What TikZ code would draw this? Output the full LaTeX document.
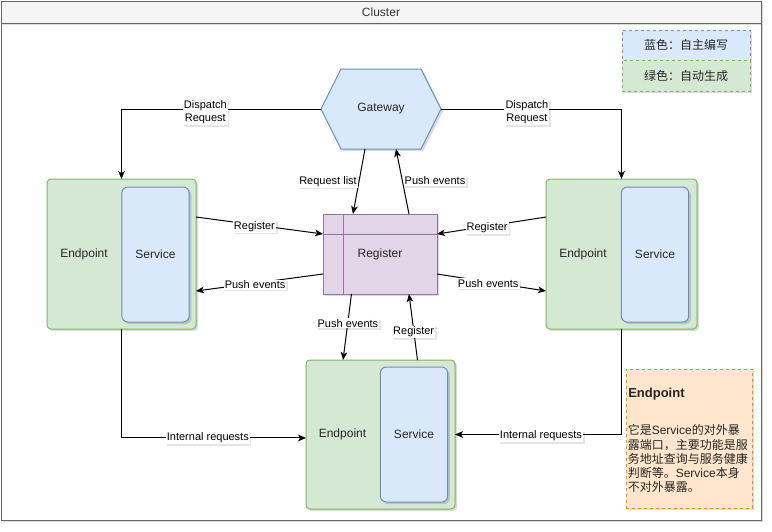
\documentclass[tikz,border=0pt]{standalone}
\usepackage{fontspec}
\setmainfont{Liberation Sans}
\newfontfamily\cjk{Noto Sans CJK SC}
\usetikzlibrary{arrows.meta,shadows}
\definecolor{gfill}{HTML}{D5E8D4}
\definecolor{gline}{HTML}{82B366}
\definecolor{bfill}{HTML}{DAE8FC}
\definecolor{bline}{HTML}{6C8EBF}
\definecolor{pfill}{HTML}{E1D5E7}
\definecolor{pline}{HTML}{9673A6}
\definecolor{ofill}{HTML}{FFE6CC}
\definecolor{oline}{HTML}{D79B00}
\definecolor{tfill}{HTML}{F5F5F5}
\definecolor{tline}{HTML}{666666}
\definecolor{ttext}{HTML}{333333}
\tikzset{
  shd/.style={drop shadow={shadow xshift=1.6pt,shadow yshift=-1.6pt,fill=black,opacity=0.14}},
  lshd/.style={drop shadow={shadow xshift=1.2pt,shadow yshift=-1.2pt,fill=black,opacity=0.10}},
  base/.style={rectangle,inner sep=0pt,outer sep=0pt,line width=0.75pt},
  epbox/.style={base,draw=gline,fill=gfill,rounded corners=3pt,shd},
  svbox/.style={base,draw=bline,fill=bfill,rounded corners=4.5pt,minimum width=50.5pt,minimum height=101.25pt,shd},
  regbox/.style={base,draw=pline,fill=pfill,minimum width=85.5pt,minimum height=60pt,shd},
  txt/.style={inner sep=0pt,font=\fontsize{9pt}{10.5pt}\selectfont,text=black!85},
  elab/.style={fill=white,inner sep=0.8pt,font=\fontsize{8.25pt}{9.6pt}\selectfont,align=center,lshd,yshift=-1.2pt},
  conn/.style={line width=0.75pt,-{Stealth[length=6pt,width=5pt,inset=1.6pt]}},
  legb/.style={base,draw=bline,fill=bfill,dashed,dash pattern=on 2.25pt off 2.25pt,minimum width=96pt,minimum height=22.5pt,shd},
  legg/.style={base,draw=gline,fill=gfill,dashed,dash pattern=on 2.25pt off 2.25pt,minimum width=96pt,minimum height=23.25pt,shd},
}
\begin{document}
\begin{tikzpicture}[x=0.75pt,y=-0.75pt]
\useasboundingbox (0,0) rectangle (772,532);
% frame
\node[base,draw=tline,fill=white,minimum width=570pt,minimum height=372.75pt,shd] (frame) at (381,271.5) {};
\node[base,draw=tline,fill=tfill,minimum width=570pt,minimum height=16.5pt,text=ttext,font=\fontsize{9pt}{10.5pt}\selectfont,shd] (title) at (381,12) {Cluster};
% legend
\node[legb] (leg1) at (686,45) {};
\node[txt] (leg1t) at (leg1) {\cjk 蓝色：自主编写};
\node[legg] (leg2) at (686,75.5) {};
\node[txt] (leg2t) at (leg2) {\cjk 绿色：自动生成};
% gateway
\node[base,minimum width=90pt,minimum height=60pt] (gw) at (381,109) {};
\draw[line width=0.75pt,draw=bline,fill=bfill,shd] (gw.west) -- ([xshift=15pt]gw.north west) -- ([xshift=-15pt]gw.north east) -- (gw.east) -- ([xshift=-15pt]gw.south east) -- ([xshift=15pt]gw.south west) -- cycle;
\node[txt] (gwt) at (gw) {Gateway};
% register
\node[regbox] (reg) at (380,254) {};
\draw[line width=0.75pt,draw=pline] ([xshift=15pt]reg.north west) -- ([xshift=15pt]reg.south west);
\draw[line width=0.75pt,draw=pline] ([yshift=-15pt]reg.north west) -- ([yshift=-15pt]reg.north east);
\node[txt] (regt) at (reg) {Register};
% left endpoint
\node[epbox,minimum width=111.75pt,minimum height=112.5pt] (L) at (121.5,254) {};
\node[svbox] (Ls) at (155.5,254.5) {};
\node[txt] (Lt) at (84,254) {Endpoint};
\node[txt] (Lst) at (Ls) {Service};
% right endpoint
\node[epbox,minimum width=113.25pt,minimum height=112.5pt] (R) at (621.5,254) {};
\node[svbox] (Rs) at (655,254.5) {};
\node[txt] (Rt) at (583,254) {Endpoint};
\node[txt] (Rst) at (Rs) {Service};
% bottom endpoint
\node[epbox,minimum width=111.75pt,minimum height=111.75pt] (B) at (380.5,434.5) {};
\node[svbox] (Bs) at (414,434.5) {};
\node[txt] (Bt) at (342.5,434) {Endpoint};
\node[txt] (Bst) at (Bs) {Service};
% note
\node[base,draw=oline,fill=ofill,dashed,dash pattern=on 2.25pt off 2.25pt,minimum width=94.5pt,minimum height=104.25pt,shd] (note) at (689,438.5) {};
\node[inner sep=0pt,anchor=west,font=\fontsize{9.75pt}{11pt}\selectfont\bfseries,text=black!85] (noteh) at (628,394) {Endpoint};
\node[inner sep=0pt,anchor=north west,align=left,font=\fontsize{9pt}{10.65pt}\selectfont,text=black!85] (noteb) at (627.5,424.5) {{\cjk 它是}Service{\cjk 的对外暴}\\{\cjk 露端口，主要功能是服}\\{\cjk 务地址查询与服务健康}\\{\cjk 判断等。}Service{\cjk 本身}\\{\cjk 不对外暴露。}};
% connectors
\draw[conn] (gw.west) -| (L.north) node[elab,pos=0.29,yshift=-1.3pt] (l1) {Dispatch\\Request};
\draw[conn] (gw.east) -| (R.north) node[elab,pos=0.238,yshift=-1.3pt] (l2) {Dispatch\\Request};
\draw[conn] ([xshift=-12pt]gw.south) -- ([xshift=-20.25pt]reg.north) node[elab,pos=0.5,anchor=east,xshift=-0.5pt,yshift=1.2pt] (l3) {Request list};
\draw[conn] ([xshift=21.75pt]reg.north) -- ([xshift=11.25pt]gw.south) node[elab,pos=0.5,anchor=west,xshift=0.5pt,yshift=1.6pt] (l4) {Push events};
\draw[conn] ([yshift=27.75pt]L.east) -- ([yshift=15pt]reg.west) node[elab,pos=0.46] (l5) {Register};
\draw[conn] ([yshift=-15pt]reg.west) -- ([yshift=-27.75pt]L.east) node[elab,pos=0.535] (l6) {Push events};
\draw[conn] ([yshift=27.75pt]R.west) -- ([yshift=15pt]reg.east) node[elab,pos=0.54] (l7) {Register};
\draw[conn] ([yshift=-15pt]reg.east) -- ([yshift=-27.75pt]R.west) node[elab,pos=0.47] (l8) {Push events};
\draw[conn] ([xshift=-21.4pt]reg.south) -- ([xshift=-28.1pt]B.north) node[elab,pos=0.42] (l9) {Push events};
\draw[conn] ([xshift=27.75pt]B.north) -- ([xshift=21.75pt]reg.south) node[elab,pos=0.45] (l10) {Register};
\draw[conn] (L.south) |- ([yshift=-2.6pt]B.west) node[elab,pos=0.734,yshift=1.2pt] (l11) {Internal requests};
\draw[conn] (R.south) |- (B.east) node[elab,pos=0.742] (l12) {Internal requests};
\end{tikzpicture}
\end{document}
